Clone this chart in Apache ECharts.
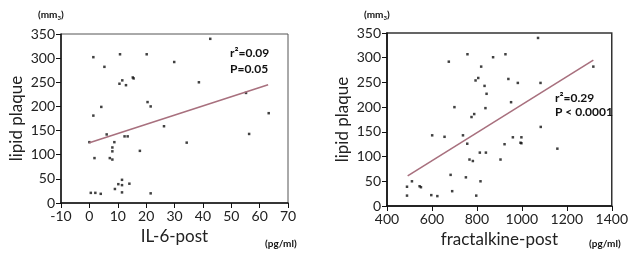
<!DOCTYPE html>
<html><head><meta charset="utf-8">
<script src="https://cdn.jsdelivr.net/npm/echarts@6/dist/echarts.min.js"></script>
<style>html,body{margin:0;padding:0;background:#fff}#c{width:631px;height:255px}</style>
</head><body><div id="c"></div>
<script>
// IL-6-post (pg/ml) vs lipid plaque (mm3)
const il6X = [1.4,10.8,20.2,42.6,5.3,29.9,10.6,11.6,12.9,15.3,15.6,38.6,4.2,1.4,20.5,21.6,55.2,63.2,26.3,0,6.1,8.8,12.4,13.5,8.1,8.1,1.8,7.2,8.1,17.8,34.3,56.3,11.5,10.2,11.5,14.1,9.0,11.5,0.5,2.1,4.0,21.6];
const il6Y = [302,308,308,340,282,292,247,254,244,260,258,250,199,181,209,200,228,186,159,126,142,126,138,138,115,107,93,93,90,108,125,143,48,39,37,40,29,22,21,21,19,20];
const il6FitX = [0,63];
const il6FitY = [125,245];
// fractalkine-post (pg/ml) vs lipid plaque (mm3)
const frX = [675,758,872,927,1072,819,1318,794,806,834,843,940,982,1083,700,838,952,776,788,1084,601,656,738,757,960,998,998,994,923,1158,813,840,767,782,905,683,751,816,511,489,545,551,690,489,597,624,797];
const frY = [292,307,301,307,340,282,282,254,259,243,227,257,249,249,200,198,210,180,186,160,143,140,143,126,139,139,127,128,125,116,108,108,94,91,94,63,58,50,50,39,40,38,30,21,22,20,21];
const frFitX = [492,1318];
const frFitY = [61,295];
const leftXTicks = {min:-10,max:70,interval:10};
const rightXTicks = {min:400,max:1400,interval:200};
const yTicks = {min:0,max:350,interval:50};
const stats = [["r²=0.09","P=0.05"],["r²=0.29","P < 0.0001"]];

const FONT = 'Lato';
const zip = (a,b)=>a.map((v,i)=>[v,b[i]]);
function xAxis(idx, t, name){
  return {gridIndex:idx, type:'value', min:t.min, max:t.max, interval:t.interval,
    name:name, nameLocation:'middle', nameGap:23,
    nameTextStyle:{fontFamily:FONT,fontSize:17,color:'#222'},
    axisLine:{onZero:false,lineStyle:{color:'#111',width:1.5}},
    axisTick:{show:true,length:5,lineStyle:{color:'#111'}},
    axisLabel:{fontFamily:FONT,fontSize:14,color:'#222',margin:6,formatter:v=>String(v)},
    splitLine:{show:false}};
}
function yAxis(idx){
  return {gridIndex:idx, type:'value', min:yTicks.min, max:yTicks.max, interval:yTicks.interval,
    name:'lipid plaque', nameLocation:'middle', nameRotate:90, nameGap:36,
    nameTextStyle:{fontFamily:FONT,fontSize:17,color:'#222'},
    axisLine:{onZero:false,lineStyle:{color:'#111',width:1.5}},
    axisTick:{show:true,length:5,lineStyle:{color:'#111'}},
    axisLabel:{fontFamily:FONT,fontSize:14,color:'#222',margin:6,formatter:v=>String(v)},
    splitLine:{show:false}};
}
const chart = echarts.init(document.getElementById('c'),null,{renderer:'canvas'});
function txt(x,y,t,size,bold){
  return {type:'text',left:x,top:y,style:{text:t,fontFamily:FONT,fontSize:size,fontWeight:bold?'bold':'normal',fill:'#111'}};
}
function unit(x,y){
  return {type:'text',left:x,top:y,style:{text:'(mm{s|3})',rich:{s:{fontSize:6,fontWeight:'bold',fontFamily:FONT,padding:[6,0,0,0]}},fontFamily:FONT,fontSize:10,fontWeight:'bold',fill:'#111'}};
}
chart.setOption({
  animation:false,
  grid:[
    {left:61,top:34,width:227,height:169,show:true,borderColor:'#555',borderWidth:1},
    {left:387,top:33,width:225,height:173,show:true,borderColor:'#333',borderWidth:1.5}
  ],
  xAxis:[xAxis(0,leftXTicks,'IL-6-post'), xAxis(1,rightXTicks,'fractalkine-post')],
  yAxis:[yAxis(0), yAxis(1)],
  series:[
    {type:'scatter',xAxisIndex:0,yAxisIndex:0,data:zip(il6X,il6Y),symbol:'rect',symbolSize:2.5,itemStyle:{color:'#111'}},
    {type:'line',xAxisIndex:0,yAxisIndex:0,data:zip(il6FitX,il6FitY),symbol:'none',lineStyle:{color:'#a8707e',width:1.6}},
    {type:'scatter',xAxisIndex:1,yAxisIndex:1,data:zip(frX,frY),symbol:'rect',symbolSize:2.5,itemStyle:{color:'#111'}},
    {type:'line',xAxisIndex:1,yAxisIndex:1,data:zip(frFitX,frFitY),symbol:'none',lineStyle:{color:'#a8707e',width:1.6}}
  ],
  graphic:[
    unit(38,10), unit(364,10),
    txt(265,239,'(pg/ml)',10,true),
    txt(589,239,'(pg/ml)',10,true),
    txt(230,47,stats[0][0],12,true),
    txt(230,63,stats[0][1],12,true),
    txt(555,92,stats[1][0],12,true),
    txt(555,106,stats[1][1],12,true)
  ]
});
</script></body></html>
